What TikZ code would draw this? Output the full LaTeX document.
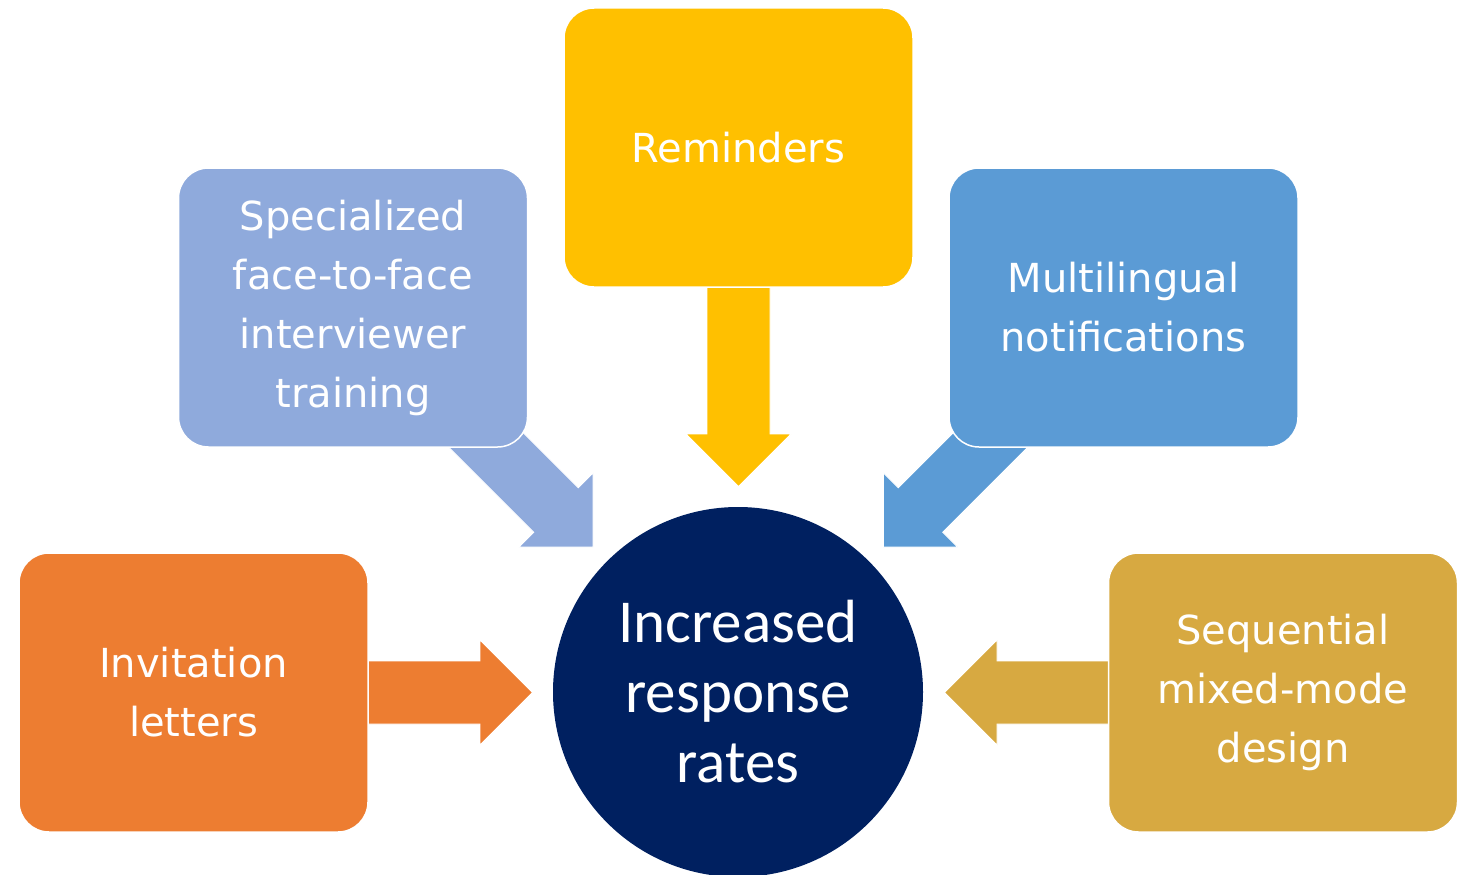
\documentclass[tikz,border=0pt]{standalone}
\usepackage{fontspec}
\newfontfamily\boxfont{DejaVu Sans}
\newfontfamily\circfont{Carlito}
\definecolor{cOrange}{HTML}{ED7D31}
\definecolor{cLav}{HTML}{8FAADC}
\definecolor{cYel}{HTML}{FFC000}
\definecolor{cBlue}{HTML}{5B9BD5}
\definecolor{cGold}{HTML}{D7A941}
\definecolor{cNavy}{HTML}{002060}
\tikzset{
  card/.style={rectangle, rounded corners=30pt, minimum width=349pt, minimum height=279pt,
    draw=white, line width=1.5pt, text=white, align=center, inner sep=0pt,
    font=\boxfont\fontsize{40}{59}\selectfont},
  hub/.style={circle, minimum size=370pt, fill=cNavy, text=white, align=center, inner sep=0pt,
    font=\circfont\fontsize{61}{70}\selectfont},
  blockarrow/.style={draw=white, line width=0.8pt},
}
% head-base centre x, y, angle, tail length, colour
\newcommand\mkarrow[5]{%
  \begin{scope}[shift={(#1,#2)},rotate=#3]
    \path[blockarrow,fill=#5] (-#4,31.5) -- (0,31.5) -- (0,52.5) -- (52.5,0)
      -- (0,-52.5) -- (0,-31.5) -- (-#4,-31.5) -- cycle;
  \end{scope}}
\begin{document}
\begin{tikzpicture}[x=1pt,y=-1pt]
  \useasboundingbox (0,0) rectangle (1465,875);
  % block arrows (under the boxes)
  \mkarrow{480}{692.5}{0}{120}{cOrange}
  \mkarrow{997}{692.5}{180}{120}{cGold}
  \mkarrow{738.5}{434}{-90}{155}{cYel}
  \mkarrow{556}{510}{-45}{150}{cLav}
  \mkarrow{920.5}{510}{-135}{150}{cBlue}
  % boxes
  \node[card, fill=cOrange] (inv)   at (193.5,692.5) {Invitation\\letters};
  \node[card, fill=cLav]    (spec)  at (353,307.5)   {Specialized\\face-to-face\\interviewer\\training};
  \node[card, fill=cYel]    (rem)   at (738.5,147.5) {Reminders};
  \node[card, fill=cBlue]   (multi) at (1123.5,307.5) {Multilingual\\notifications};
  \node[card, fill=cGold]   (seq)   at (1283,692.5)  {Sequential\\mixed-mode\\design};
  % hub
  \node[hub] (hubc) at (738,692) {Increased\\response\\rates};
\end{tikzpicture}
\end{document}
